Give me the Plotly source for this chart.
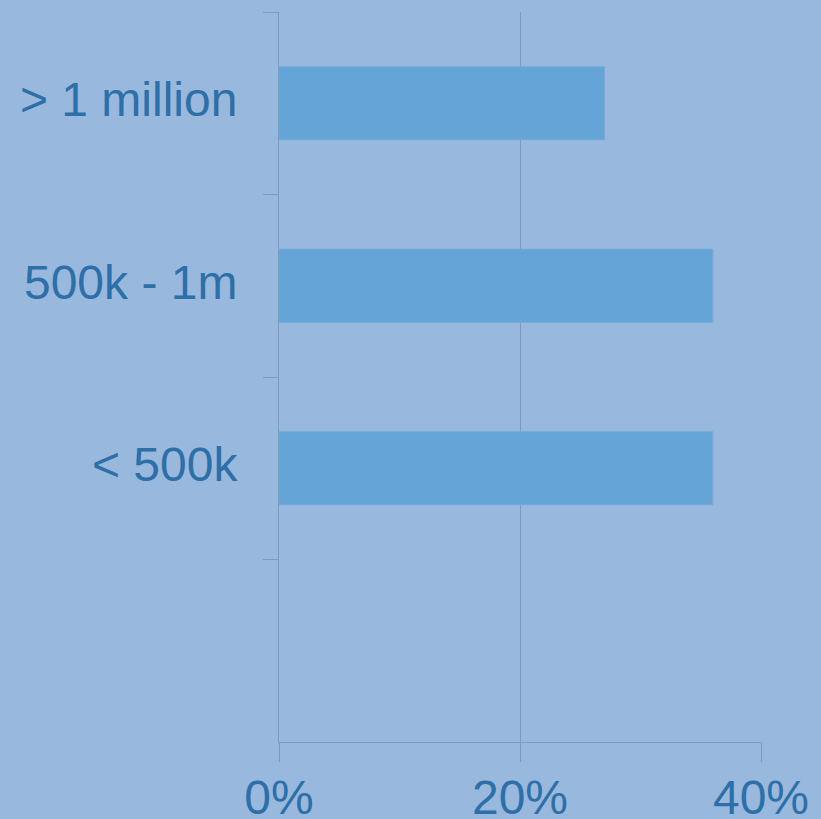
import plotly.graph_objects as go

# Share of respondents by size band (top to bottom), plus an empty slot at the bottom
categories = ["> 1 million", "500k - 1m", "< 500k", " "]
shares = [0.27, 0.36, 0.36, None]
x_tickvals = [0, 0.2, 0.4]
x_ticktext = ["0%", "20%", "40%"]

bg = "#98b8de"
bar_color = "#64a4d6"
text_color = "#2e6fa8"
line_color = "#8199bb"
font_family = "Arial, Liberation Sans, sans-serif"

fig = go.Figure(
    go.Bar(
        x=shares,
        y=categories,
        orientation="h",
        width=0.4,
        marker=dict(color=bar_color, line=dict(color="#70abdb", width=1)),
        hoverinfo="skip",
    )
)

fig.update_layout(
    width=821,
    height=819,
    margin=dict(l=279, r=60, t=12, b=77),
    paper_bgcolor=bg,
    plot_bgcolor=bg,
    showlegend=False,
    font=dict(family=font_family, color=text_color, size=48),
)

fig.update_xaxes(
    range=[0, 0.4],
    tickvals=x_tickvals,
    ticktext=x_ticktext,
    automargin=False,
    showgrid=True,
    gridcolor=line_color,
    gridwidth=1,
    zeroline=False,
    showline=True,
    linecolor=line_color,
    linewidth=1,
    ticks="outside",
    ticklen=19,
    ticklabelstandoff=-6,
    tickcolor=line_color,
    tickfont=dict(size=48, color=text_color),
)

fig.update_yaxes(
    type="category",
    categoryorder="array",
    categoryarray=categories,
    range=[3.5, -0.5],
    automargin=False,
    showgrid=False,
    zeroline=False,
    showline=True,
    linecolor=line_color,
    linewidth=1,
    ticks="outside",
    tickson="boundaries",
    ticklen=15,
    ticklabelstandoff=31,
    ticklabelshift=4,
    tickcolor=line_color,
    tickfont=dict(size=48, color=text_color),
)

fig.write_html("out.html")
